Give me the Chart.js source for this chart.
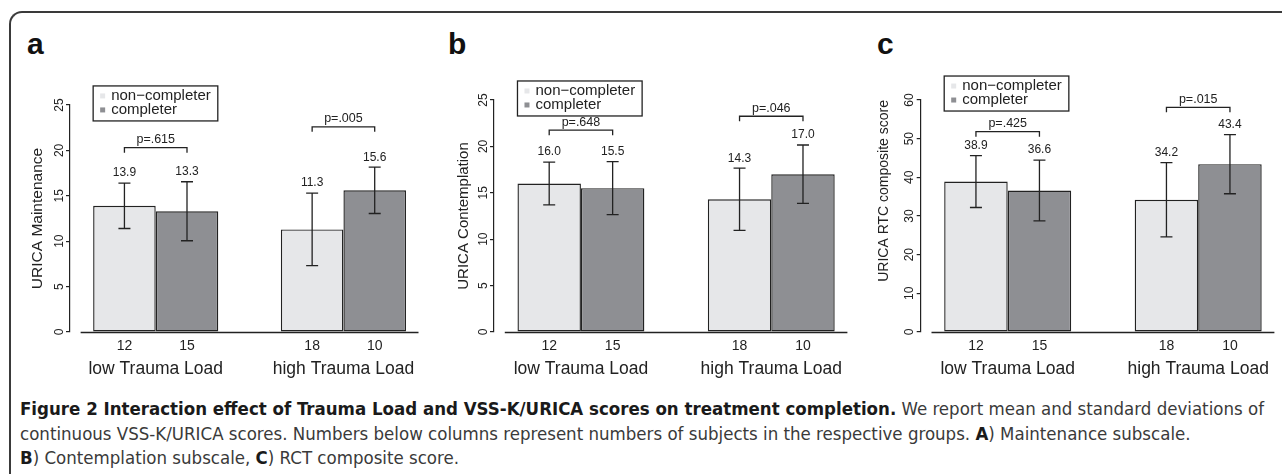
<!DOCTYPE html>
<html>
<head>
<meta charset="utf-8">
<script src="https://cdn.jsdelivr.net/npm/chart.js@4.4.1/dist/chart.umd.min.js"></script>
<style>
  html, body { margin: 0; padding: 0; background: #fff; }
  body { width: 1282px; height: 474px; position: relative; overflow: hidden; }
  .frame { position: absolute; left: 9px; top: 11px; width: 1400px; height: 600px;
           border-top: 2px solid #3a3a3a; border-left: 2px solid #3a3a3a; border-top-left-radius: 13px; }
  canvas { position: absolute; top: 0; }
  .tag { position: absolute; top: 29px; font: bold 30px "Liberation Sans", Arial, sans-serif; line-height: 30px; color: #111; }
  .caption { position: absolute; left: 20px; top: 397px; font-family: "DejaVu Sans Condensed", "Liberation Sans Narrow", "Liberation Sans", sans-serif;
             font-stretch: condensed; font-size: 17px; line-height: 24.5px; color: #3a3a3a; transform-origin: 0 0; }
  .caption div { white-space: nowrap; width: max-content; }
  .caption b { color: #1a1a1a; }
</style>
</head>
<body>
<div class="frame"></div>
<div class="tag" style="left:27px">a</div>
<div class="tag" style="left:448px">b</div>
<div class="tag" style="left:877px">c</div>

<canvas id="chartA" width="430" height="392" style="left:0px"></canvas>
<canvas id="chartB" width="430" height="392" style="left:430px"></canvas>
<canvas id="chartC" width="422" height="392" style="left:860px"></canvas>

<div class="caption" id="caption">
  <div id="capFirst"><b>Figure 2 Interaction effect of Trauma Load and VSS-K/URICA scores on treatment completion.</b> We report mean and standard deviations of</div>
  <div>continuous VSS-K/URICA scores. Numbers below columns represent numbers of subjects in the respective groups. <b>A</b>) Maintenance subscale.</div>
  <div><b>B</b>) Contemplation subscale, <b>C</b>) RCT composite score.</div>
</div>

<script>
const groupNames = ["low Trauma Load", "high Trauma Load"];
const seriesNames = ["non\u2212completer", "completer"];
const nNonCompleter = [12, 18];
const nCompleter = [15, 10];

// a) URICA Maintenance
const maintNon = [13.9, 11.3];
const maintNonSd = [2.5, 4.0];
const maintComp = [13.3, 15.6];
const maintCompSd = [3.25, 2.55];
const maintP = ["p=.615", "p=.005"];

// b) URICA Contemplation
const contNon = [16.0, 14.3];
const contNonSd = [2.3, 3.35];
const contComp = [15.5, 17.0];
const contCompSd = [2.85, 3.15];
const contP = ["p=.648", "p=.046"];

// c) URICA RTC composite score
const rtcNon = [38.9, 34.2];
const rtcNonSd = [6.7, 9.6];
const rtcComp = [36.6, 43.4];
const rtcCompSd = [7.85, 7.65];
const rtcP = ["p=.425", "p=.015"];

const lightGrey = "#e6e7e9";
const darkGrey = "#8e8f93";
const ink = "#222";
const FONT = '"Liberation Sans", Arial, Helvetica, sans-serif';

Chart.defaults.font.family = FONT;
Chart.defaults.color = ink;

// barplot layout like R: bars of width 1, one empty bar between groups
const groupX = g => 2 + 3 * g;
const barX = (g, j) => 1.5 + 3 * g + j;

const annotate = {
  id: "annotate",
  afterDatasetsDraw(chart, args, opts) {
    const ctx = chart.ctx;
    const x = chart.scales.x;
    const y = chart.scales.y;
    ctx.save();
    ctx.strokeStyle = ink;
    ctx.fillStyle = ink;
    ctx.lineWidth = 1.3;

    // baseline at 0, spanning the R plot region
    const y0 = Math.round(y.getPixelForValue(0)) + 0.5;
    ctx.beginPath();
    ctx.moveTo(x.getPixelForValue(0.8), y0);
    ctx.lineTo(x.getPixelForValue(6.2), y0);
    ctx.stroke();

    // error bars and mean labels
    ctx.font = "12px " + FONT;
    ctx.textAlign = "center";
    ctx.textBaseline = "middle";
    chart.data.datasets.forEach((ds, i) => {
      chart.getDatasetMeta(i).data.forEach((bar, j) => {
        const m = ds.data[j].y;
        const sd = ds.sd[j];
        const top = y.getPixelForValue(m + sd);
        const bot = y.getPixelForValue(m - sd);
        ctx.beginPath();
        ctx.moveTo(bar.x, top); ctx.lineTo(bar.x, bot);
        ctx.moveTo(bar.x - 6, top); ctx.lineTo(bar.x + 6, top);
        ctx.moveTo(bar.x - 6, bot); ctx.lineTo(bar.x + 6, bot);
        ctx.stroke();
        ctx.fillText(m.toFixed(1), bar.x, top - 10);
      });
    });

    // p-value brackets
    ctx.font = "12.5px " + FONT;
    opts.pValues.forEach((p, g) => {
      const a = chart.getDatasetMeta(0).data[g].x;
      const b = chart.getDatasetMeta(1).data[g].x;
      const by = y.getPixelForValue(opts.bracketAt[g]);
      ctx.beginPath();
      ctx.moveTo(a, by + 5); ctx.lineTo(a, by); ctx.lineTo(b, by); ctx.lineTo(b, by + 5);
      ctx.stroke();
      ctx.fillText(p, (a + b) / 2, by - 8);
    });

    // legend box
    const first = chart.getDatasetMeta(0).data[0];
    const left = first.x - first.width / 2;
    const top = y.getPixelForValue(opts.legendAt);
    ctx.font = "15px " + FONT;
    const tw = Math.max(...chart.data.datasets.map(ds => ctx.measureText(ds.label).width));
    ctx.strokeRect(left, top, 18 + tw + 7, 35);
    ctx.textAlign = "left";
    chart.data.datasets.forEach((ds, i) => {
      const cy = top + 9.5 + 14 * i;
      ctx.fillStyle = ds.backgroundColor;
      ctx.fillRect(left + 7, cy - 2, 5, 5);
      ctx.fillStyle = ink;
      ctx.fillText(ds.label, left + 18, cy);
    });
    ctx.restore();
  }
};

function makePanel(id, p) {
  const counts = [nNonCompleter[0], nCompleter[0], nNonCompleter[1], nCompleter[1]];
  return new Chart(document.getElementById(id), {
    type: "bar",
    data: {
      datasets: [
        { label: seriesNames[0], data: p.non.map((v, g) => ({ x: groupX(g), y: v })), sd: p.nonSd,
          backgroundColor: lightGrey, borderColor: ink, borderWidth: 1.4, borderSkipped: false },
        { label: seriesNames[1], data: p.comp.map((v, g) => ({ x: groupX(g), y: v })), sd: p.compSd,
          backgroundColor: darkGrey, borderColor: ink, borderWidth: 1.4, borderSkipped: false }
      ]
    },
    options: {
      responsive: false,
      animation: false,
      events: [],
      categoryPercentage: 2 / 3,
      barPercentage: 1,
      layout: { padding: p.padding },
      plugins: {
        legend: { display: false },
        tooltip: { enabled: false },
        annotate: { pValues: p.p, bracketAt: p.bracketAt, legendAt: p.legendAt }
      },
      scales: {
        x: {
          type: "linear", position: "bottom", weight: 2, min: 0.63, max: 6.2, offset: false,
          grid: { display: false, drawTicks: false, offset: false }, border: { display: false },
          afterBuildTicks: s => { s.ticks = groupNames.map((n, g) => ({ value: groupX(g) })); },
          afterFit: s => { s.height = 22; },
          ticks: { autoSkip: false, maxRotation: 0, padding: 2.3, font: { size: 17.5 },
                   callback: (v, i) => groupNames[i] }
        },
        xn: {
          type: "linear", position: "bottom", weight: 1, min: 0.63, max: 6.2, offset: false,
          grid: { display: false, drawTicks: false, offset: false }, border: { display: false },
          afterBuildTicks: s => { s.ticks = counts.map((c, k) => ({ value: barX(Math.floor(k / 2), k % 2) })); },
          afterFit: s => { s.height = 24; },
          ticks: { autoSkip: false, maxRotation: 0, padding: 6, font: { size: 14 },
                   callback: (v, i) => String(counts[i]) }
        },
        y: {
          min: 0, max: p.yMax,
          afterFit: s => { s.width = p.axisWidth; },
          grid: { display: true, drawOnChartArea: false, drawTicks: true, tickLength: 4, color: ink, lineWidth: 1.2 },
          border: { display: true, color: ink, width: 1.2 },
          ticks: { stepSize: p.yStep, minRotation: 90, maxRotation: 90, crossAlign: "center", padding: 0,
                   font: { size: 12 } },
          title: { display: true, text: p.title, align: p.titleAlign, color: ink,
                   font: { size: p.titleSize }, padding: { top: p.titlePad, bottom: 0 } }
        }
      }
    },
    plugins: [annotate]
  });
}

makePanel("chartA", {
  title: "URICA Maintenance", titleSize: 15.5, titlePad: 28, titleAlign: "center",
  yMax: 25, yStep: 5, axisWidth: 70,
  padding: { left: 0, top: 105, right: 11.5, bottom: 14 },
  non: maintNon, nonSd: maintNonSd, comp: maintComp, compSd: maintCompSd, p: maintP,
  bracketAt: [20.3, 22.6], legendAt: 27.1
});

makePanel("chartB", {
  title: "URICA Contemplation", titleSize: 15, titlePad: 24.5, titleAlign: "center",
  yMax: 25, yStep: 5, axisWidth: 64,
  padding: { left: 0, top: 100, right: 12.6, bottom: 14 },
  non: contNon, nonSd: contNonSd, comp: contComp, compSd: contCompSd, p: contP,
  bracketAt: [21.75, 23.25], legendAt: 27.05
});

makePanel("chartC", {
  title: "URICA RTC composite score", titleSize: 14, titlePad: 15.6, titleAlign: "end",
  yMax: 60, yStep: 10, axisWidth: 60.7,
  padding: { left: 0, top: 100, right: 7.6, bottom: 14 },
  non: rtcNon, nonSd: rtcNonSd, comp: rtcComp, compSd: rtcCompSd, p: rtcP,
  bracketAt: [51.8, 58.1], legendAt: 66.2
});

// one horizontal scale for the whole caption, so the first line spans the frame like in the figure
const cap = document.getElementById("caption");
const firstW = document.getElementById("capFirst").getBoundingClientRect().width;
cap.style.transform = "scaleX(" + (1244 / firstW) + ")";
</script>
</body>
</html>
